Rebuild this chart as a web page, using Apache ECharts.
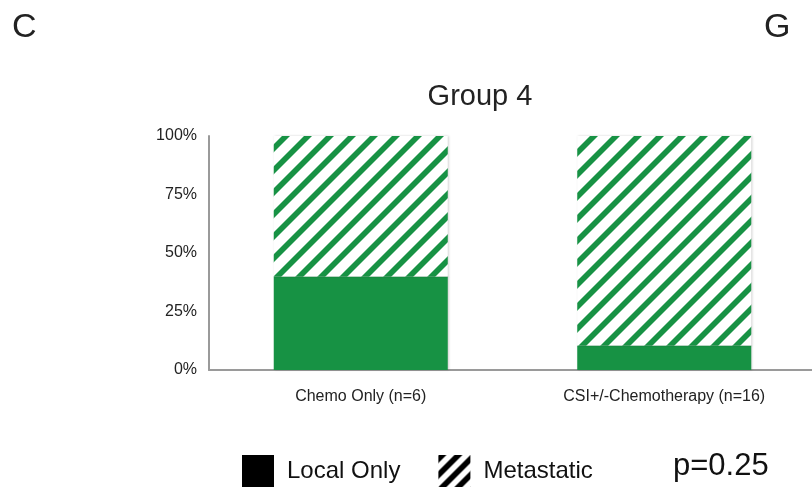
<!DOCTYPE html>
<html>
<head>
<meta charset="utf-8">
<style>
  html, body { margin: 0; padding: 0; background: #fff; }
  #chart { width: 812px; height: 487px; }
</style>
<script src="https://cdn.jsdelivr.net/npm/echarts@6/dist/echarts.min.js"></script>
</head>
<body>
<div id="chart"></div>
<script>
// Outcome share by treatment arm (percent of patients)
const categories = ['Chemo Only (n=6)', 'CSI+/-Chemotherapy (n=16)'];
const localOnly = [40, 10.5];
const metastatic = [60, 89.5];
const yTicks = [0, 25, 50, 75, 100];
const pValueText = 'p=0.25';

const GREEN = '#179244';
const FONT = '"Liberation Sans", Arial, Helvetica, sans-serif';

// Diagonal "/" stripe tile: band where (x + y) mod period < band
function stripeTile(period, band, color) {
  const c = document.createElement('canvas');
  c.width = period; c.height = period;
  const ctx = c.getContext('2d');
  ctx.fillStyle = '#fff';
  ctx.fillRect(0, 0, period, period);
  ctx.fillStyle = color;
  for (let k = -1; k <= 2; k++) {
    const x0 = k * period;
    ctx.beginPath();
    ctx.moveTo(x0, 0);
    ctx.lineTo(x0 + band, 0);
    ctx.lineTo(x0 + band - period, period);
    ctx.lineTo(x0 - period, period);
    ctx.closePath();
    ctx.fill();
  }
  return c;
}

const barHatch = { image: stripeTile(22, 8, GREEN), repeat: 'repeat' };
const legendHatch = { image: stripeTile(16, 8, '#000'), repeat: 'repeat' };

const chart = echarts.init(document.getElementById('chart'), null, { renderer: 'canvas' });

chart.setOption({
  animation: false,
  backgroundColor: '#fff',
  title: {
    text: 'Group 4',
    left: 475,
    top: 77,
    textAlign: 'center',
    textStyle: { fontFamily: FONT, fontSize: 29, fontWeight: 'normal', color: '#222' }
  },
  legend: {
    left: 237,
    top: 450,
    itemWidth: 32,
    itemHeight: 33,
    itemGap: 38,
    selectedMode: false,
    textStyle: { fontFamily: FONT, fontSize: 24, color: '#111', padding: [0, 0, 0, 8] },
    data: [
      { name: 'Local Only', icon: 'rect', itemStyle: { color: '#000' } },
      { name: 'Metastatic', icon: 'rect', itemStyle: { color: legendHatch } }
    ]
  },
  grid: { left: 209, top: 136, width: 607, height: 234, outerBoundsMode: 'none' },
  xAxis: {
    type: 'category',
    data: categories,
    axisLine: { lineStyle: { color: '#9a9a9a', width: 2 } },
    axisTick: { show: false },
    axisLabel: { fontFamily: FONT, fontSize: 16, color: '#222', margin: 19 }
  },
  yAxis: {
    type: 'value',
    min: yTicks[0],
    max: yTicks[yTicks.length - 1],
    interval: yTicks[1] - yTicks[0],
    axisLine: { show: true, lineStyle: { color: '#9a9a9a', width: 2 } },
    axisTick: { show: false },
    splitLine: { show: false },
    axisLabel: { fontFamily: FONT, fontSize: 16, color: '#222', margin: 12, formatter: '{value}%' }
  },
  series: [
    {
      name: 'Local Only',
      type: 'bar',
      stack: 'share',
      barWidth: 174,
      data: localOnly,
      itemStyle: { color: GREEN, shadowColor: 'rgba(0,0,0,0.18)', shadowBlur: 2, shadowOffsetX: 1 }
    },
    {
      name: 'Metastatic',
      type: 'bar',
      stack: 'share',
      barWidth: 174,
      data: metastatic,
      itemStyle: { color: barHatch, shadowColor: 'rgba(0,0,0,0.18)', shadowBlur: 2, shadowOffsetX: 1 }
    }
  ],
  graphic: [
    { type: 'text', left: 12, top: 11, style: { text: 'C', font: '34px ' + FONT, fill: '#222' } },
    { type: 'text', left: 764, top: 11, style: { text: 'G', font: '34px ' + FONT, fill: '#222' } },
    { type: 'text', left: 673, top: 451, style: { text: pValueText, font: '31px ' + FONT, fill: '#111' } }
  ]
});
</script>
</body>
</html>
